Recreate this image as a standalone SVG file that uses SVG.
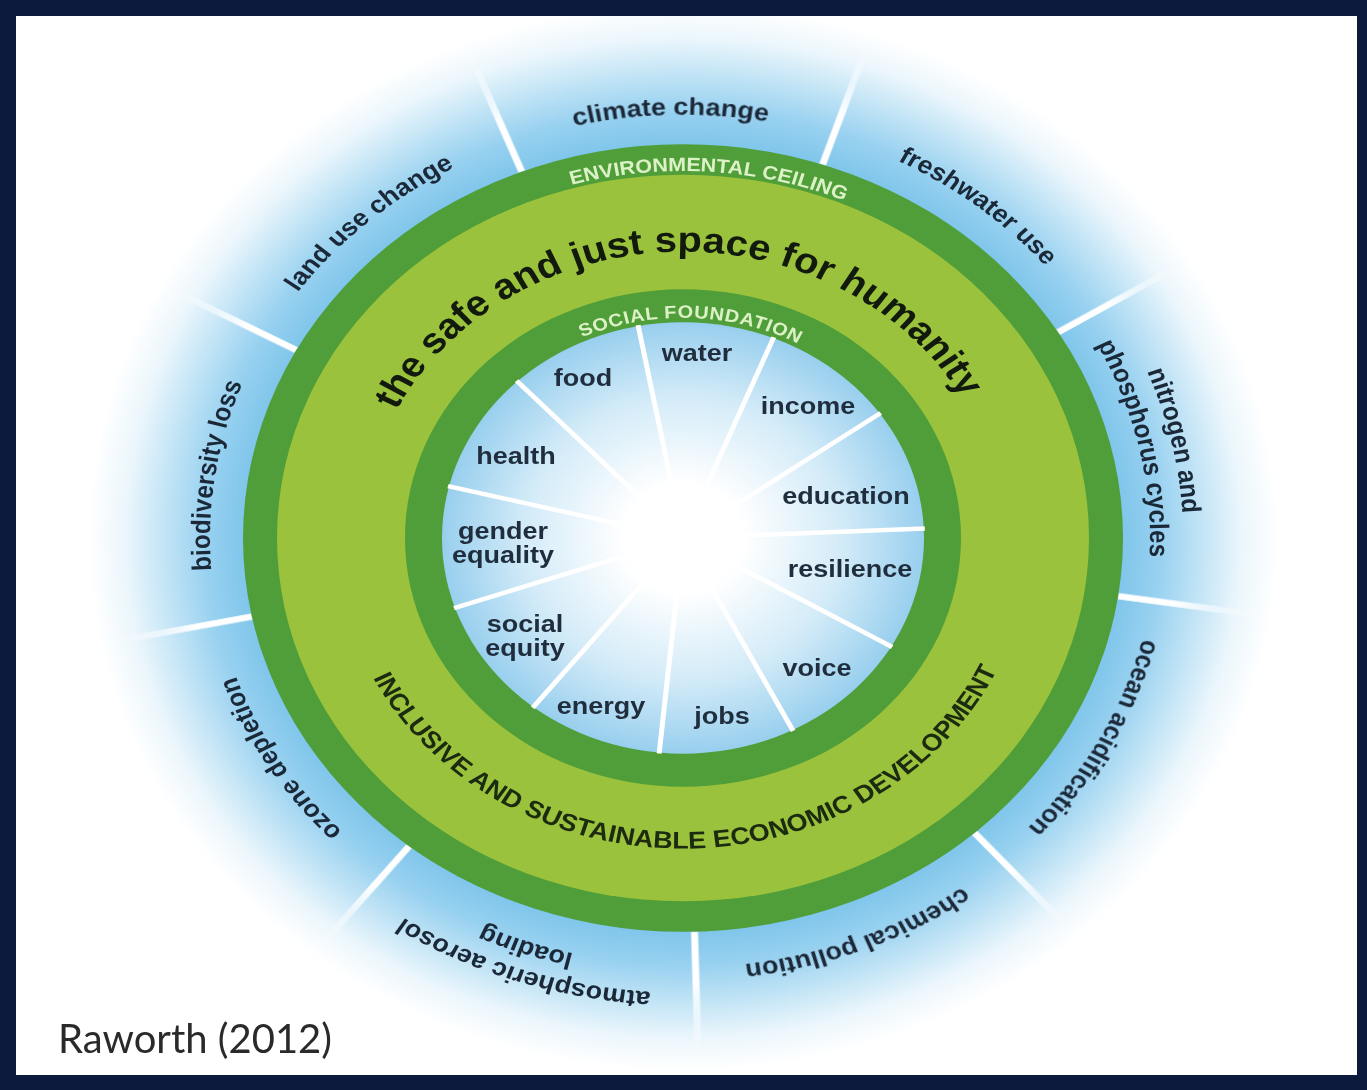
<svg xmlns="http://www.w3.org/2000/svg" width="1367" height="1090" viewBox="0 0 1367 1090">
<defs>
  <radialGradient id="outerBlue" gradientUnits="userSpaceOnUse" cx="0" cy="0" r="620">
    <stop offset="0.7" stop-color="#7cc4ea"/>
    <stop offset="0.77" stop-color="#98d1f0"/>
    <stop offset="0.84" stop-color="#c4e5f6"/>
    <stop offset="0.9" stop-color="#ebf6fc"/>
    <stop offset="0.96" stop-color="#ffffff"/>
  </radialGradient>
  <radialGradient id="innerBlue" gradientUnits="userSpaceOnUse" cx="0" cy="0" r="241">
    <stop offset="0" stop-color="#ffffff"/>
    <stop offset="0.25" stop-color="#ffffff"/>
    <stop offset="0.66" stop-color="#d3ebf8"/>
    <stop offset="1" stop-color="#98cfee"/>
  </radialGradient>
  <radialGradient id="fadeGrad" gradientUnits="userSpaceOnUse" cx="0" cy="0" r="620">
    <stop offset="0.8" stop-color="#ffffff"/>
    <stop offset="0.94" stop-color="#000000"/>
  </radialGradient>
  <mask id="sepFade" maskUnits="userSpaceOnUse" x="-700" y="-700" width="1400" height="1400">
    <circle cx="0" cy="0" r="700" fill="url(#fadeGrad)"/>
  </mask>
  <clipPath id="panel"><rect x="16" y="16" width="1341" height="1059"/></clipPath>
  <path id="c246" d="M -246 0 A 246 246 0 0 1 246 0"/>
  <path id="c320" d="M -320 0 A 320 320 0 0 1 320 0"/>
  <path id="c410" d="M -410 0 A 410 410 0 0 1 410 0"/>
  <path id="c467" d="M -467 0 A 467 467 0 0 1 467 0"/>
  <path id="c473" d="M -473 0 A 473 473 0 0 1 473 0"/>
  <path id="c477" d="M -477 0 A 477 477 0 0 1 477 0"/>
  <path id="c480" d="M -480 0 A 480 480 0 0 1 480 0"/>
  <path id="c500" d="M -500 0 A 500 500 0 0 1 500 0"/>
  <path id="c508" d="M -508 0 A 508 508 0 0 1 508 0"/>
  <path id="b347" d="M -347 0 A 347 347 0 0 0 347 0"/>
  <style>
    .outer{font-family:"Liberation Sans",Arial,sans-serif;font-weight:bold;font-size:27px;fill:#1b2838}
    .inner{font-family:"Liberation Sans",Arial,sans-serif;font-weight:bold;font-size:27px;fill:#1f2d3d;text-anchor:middle}
    .band{font-family:"Liberation Sans",Arial,sans-serif;font-weight:bold;fill:#dcf2c6}
    .safe{font-family:"Liberation Sans",Arial,sans-serif;font-weight:bold;font-size:40px;fill:#111a0c}
    .econ{font-family:"Liberation Sans",Arial,sans-serif;font-weight:bold;font-size:27px;fill:#1c2a10}
    .sep{stroke:#ffffff;stroke-width:7;fill:none}
    .ray{stroke:#ffffff;stroke-width:5;fill:none}
    .dark{fill:#4f9e3a}
    .light{fill:#9bc23c}
  </style>
</defs>

<rect x="0" y="0" width="1367" height="1090" fill="#0c1a3e"/>
<rect x="16" y="16" width="1341" height="1059" fill="#ffffff"/>

<g clip-path="url(#panel)">
<g id="doughnut" transform="translate(683 538) scale(1 0.895)">
  <circle id="outer-zone" cx="0" cy="0" r="620" fill="url(#outerBlue)"/>
  <g id="separators" mask="url(#sepFade)">
    <line class="sep" x1="0" y1="-440" x2="0" y2="-590" transform="rotate(18.5)"/>
    <line class="sep" x1="0" y1="-440" x2="0" y2="-590" transform="rotate(58.5)"/>
    <line class="sep" x1="0" y1="-440" x2="0" y2="-590" transform="rotate(98.5)"/>
    <line class="sep" x1="0" y1="-440" x2="0" y2="-590" transform="rotate(138.5)"/>
    <line class="sep" x1="0" y1="-440" x2="0" y2="-590" transform="rotate(178.5)"/>
    <line class="sep" x1="0" y1="-440" x2="0" y2="-590" transform="rotate(218.5)"/>
    <line class="sep" x1="0" y1="-440" x2="0" y2="-590" transform="rotate(258.5)"/>
    <line class="sep" x1="0" y1="-440" x2="0" y2="-590" transform="rotate(298.5)"/>
    <line class="sep" x1="0" y1="-440" x2="0" y2="-590" transform="rotate(338.5)"/>
  </g>
  <circle id="environmental-ceiling" class="dark" cx="0" cy="0" r="440"/>
  <circle id="safe-just-space" class="light" cx="0" cy="0" r="406"/>
  <circle id="social-foundation" class="dark" cx="0" cy="0" r="278"/>
  <circle id="inner-zone" cx="0" cy="0" r="241" fill="url(#innerBlue)"/>
  <g id="rays">
    <line class="ray" x1="0" y1="-10" x2="0" y2="-242" transform="rotate(-10.7)"/>
    <line class="ray" x1="0" y1="-10" x2="0" y2="-242" transform="rotate(22.03)"/>
    <line class="ray" x1="0" y1="-10" x2="0" y2="-242" transform="rotate(54.75)"/>
    <line class="ray" x1="0" y1="-10" x2="0" y2="-242" transform="rotate(87.48)"/>
    <line class="ray" x1="0" y1="-10" x2="0" y2="-242" transform="rotate(120.2)"/>
    <line class="ray" x1="0" y1="-10" x2="0" y2="-242" transform="rotate(152.93)"/>
    <line class="ray" x1="0" y1="-10" x2="0" y2="-242" transform="rotate(185.66)"/>
    <line class="ray" x1="0" y1="-10" x2="0" y2="-242" transform="rotate(218.39)"/>
    <line class="ray" x1="0" y1="-10" x2="0" y2="-242" transform="rotate(251.12)"/>
    <line class="ray" x1="0" y1="-10" x2="0" y2="-242" transform="rotate(283.84)"/>
    <line class="ray" x1="0" y1="-10" x2="0" y2="-242" transform="rotate(316.57)"/>
  </g>

  <g id="ring-labels">
    <text class="band" font-size="21.5" transform="rotate(3.7)"><textPath href="#c410" startOffset="50%" text-anchor="middle">ENVIRONMENTAL CEILING</textPath></text>
    <text class="band" font-size="20" letter-spacing="0.7" transform="rotate(1.9)"><textPath href="#c246" startOffset="50%" text-anchor="middle">SOCIAL FOUNDATION</textPath></text>
    <text class="safe" transform="rotate(-1.4)"><textPath href="#c320" startOffset="50%" text-anchor="middle">the safe and just space for humanity</textPath></text>
    <text class="econ" transform="rotate(-0.8)"><textPath href="#b347" startOffset="50%" text-anchor="middle">INCLUSIVE AND SUSTAINABLE ECONOMIC DEVELOPMENT</textPath></text>
  </g>

  <g id="climate-change"><text class="outer" transform="rotate(-1.5)"><textPath href="#c473" startOffset="50%" text-anchor="middle">climate change</textPath></text></g>
  <g id="freshwater-use"><text class="outer" transform="rotate(38.5)"><textPath href="#c473" startOffset="50%" text-anchor="middle">freshwater use</textPath></text></g>
  <g id="nitrogen-phosphorus">
    <text class="outer" transform="rotate(77.5)"><textPath href="#c500" startOffset="50%" text-anchor="middle">nitrogen and</textPath></text>
    <text class="outer" transform="rotate(77.5)"><textPath href="#c467" startOffset="50%" text-anchor="middle">phosphorus cycles</textPath></text>
  </g>
  <g id="ocean-acidification"><text class="outer" transform="rotate(118.5)"><textPath href="#c473" startOffset="50%" text-anchor="middle">ocean acidification</textPath></text></g>
  <g id="chemical-pollution"><text class="outer" transform="rotate(158.5)"><textPath href="#c480" startOffset="50%" text-anchor="middle">chemical pollution</textPath></text></g>
  <g id="atmospheric-aerosol-loading">
    <text class="outer" transform="rotate(198.5)"><textPath href="#c508" startOffset="50%" text-anchor="middle">atmospheric aerosol</textPath></text>
    <text class="outer" transform="rotate(199)"><textPath href="#c477" startOffset="50%" text-anchor="middle">loading</textPath></text>
  </g>
  <g id="ozone-depletion"><text class="outer" transform="rotate(238.5)"><textPath href="#c473" startOffset="50%" text-anchor="middle">ozone depletion</textPath></text></g>
  <g id="biodiversity-loss"><text class="outer" transform="rotate(278.5)"><textPath href="#c473" startOffset="50%" text-anchor="middle">biodiversity loss</textPath></text></g>
  <g id="land-use-change"><text class="outer" transform="rotate(318.3)"><textPath href="#c473" startOffset="50%" text-anchor="middle">land use change</textPath></text></g>
</g>
</g>

<g id="social-labels">
  <g id="water"><text class="inner" transform="translate(697 361) scale(1 0.895)">water</text></g>
  <g id="food"><text class="inner" transform="translate(583 386) scale(1 0.895)">food</text></g>
  <g id="income"><text class="inner" transform="translate(808 414) scale(1 0.895)">income</text></g>
  <g id="health"><text class="inner" transform="translate(516 464) scale(1 0.895)">health</text></g>
  <g id="education"><text class="inner" transform="translate(846 504) scale(1 0.895)">education</text></g>
  <g id="gender-equality">
    <text class="inner" transform="translate(503 539) scale(1 0.895)">gender</text>
    <text class="inner" transform="translate(503 563) scale(1 0.895)">equality</text>
  </g>
  <g id="resilience"><text class="inner" transform="translate(850 577) scale(1 0.895)">resilience</text></g>
  <g id="social-equity">
    <text class="inner" transform="translate(525 632) scale(1 0.895)">social</text>
    <text class="inner" transform="translate(525 656) scale(1 0.895)">equity</text>
  </g>
  <g id="voice"><text class="inner" transform="translate(817 676) scale(1 0.895)">voice</text></g>
  <g id="energy"><text class="inner" transform="translate(601 714) scale(1 0.895)">energy</text></g>
  <g id="jobs"><text class="inner" transform="translate(722 724) scale(1 0.895)">jobs</text></g>
</g>

<g id="source"><text x="58" y="1053" font-family="Lato,'Liberation Sans',sans-serif" font-size="40" fill="#2a2a2a">Raworth (2012)</text></g>
</svg>
